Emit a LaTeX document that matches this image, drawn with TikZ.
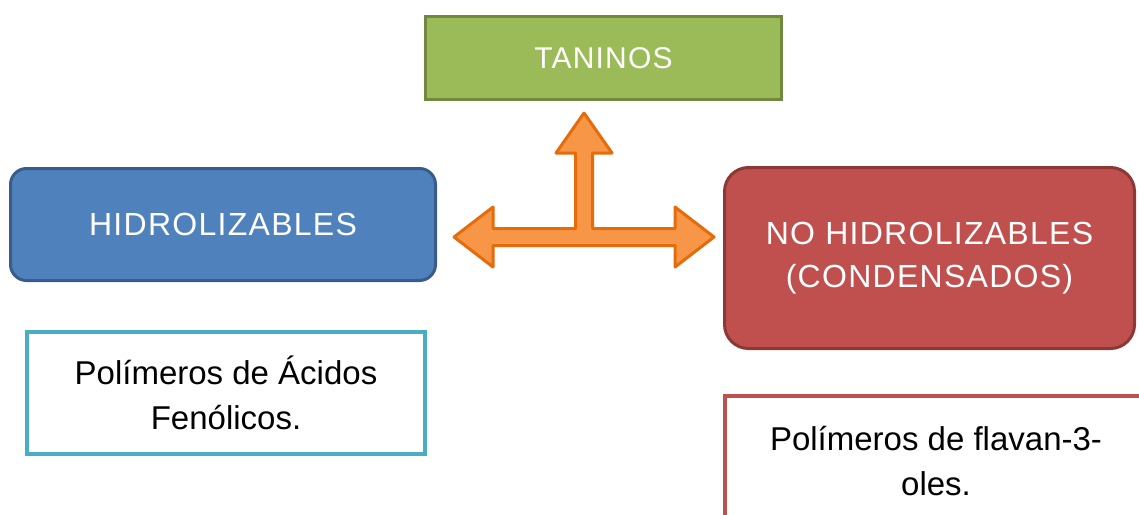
\documentclass[tikz,border=0pt]{standalone}
\usepackage{fontspec}
\setmainfont{Liberation Sans}
\newfontfamily\espaciada[LetterSpace=4]{Liberation Sans}

\definecolor{verde}{HTML}{9BBB59}
\definecolor{verdeosc}{HTML}{71893F}
\definecolor{azul}{HTML}{4F81BD}
\definecolor{azulosc}{HTML}{385D8A}
\definecolor{rojo}{HTML}{C0504D}
\definecolor{rojoosc}{HTML}{8C3836}
\definecolor{naranja}{HTML}{F79646}
\definecolor{naranjaosc}{HTML}{E46C0A}
\definecolor{celeste}{HTML}{4BACC6}

\begin{document}
\begin{tikzpicture}[x=1pt,y=-1pt,
	caja/.style={draw,line width=3pt,text=white,align=center,font=\espaciada\fontsize{32}{43}\selectfont},
	nota/.style={draw,line width=4pt,fill=white,align=center,font=\fontsize{33}{45}\selectfont},
	flecha/.style={fill=naranja,draw=naranjaosc,line width=3pt,line join=round}]
	\clip (0,0) rectangle (1139,514);
	\node[caja,fill=verde,draw=verdeosc,minimum width=356pt,minimum height=83pt,
		font=\espaciada\fontsize{30}{36}\selectfont] (taninos) at (603.5,58) {TANINOS};
	\node[caja,fill=azul,draw=azulosc,rounded corners=16pt,minimum width=425pt,minimum height=112pt] (hidro) at (223,224.5) {HIDROLIZABLES};
	\node[caja,fill=rojo,draw=rojoosc,rounded corners=24pt,minimum width=410pt,minimum height=181pt] (nohidro) at (929.5,258) {NO HIDROLIZABLES\\(CONDENSADOS)};
	\node[nota,draw=celeste,minimum width=398pt,minimum height=122pt] (acidos) at (226,393) {Polímeros de Ácidos\\Fenólicos.};
	\node[nota,draw=rojo,minimum width=422pt,minimum height=130pt] (flavan) at (936,461) {Polímeros de flavan-3-\\oles.};
	% flecha de tres puntas
	\coordinate (eje) at (584,237);
	\begin{scope}[shift={(eje)}]
		\draw[flecha] (-130,0) -- (-91,-30) -- (-91,-8.5) -- (-8.5,-8.5) -- (-8.5,-84) -- (-28,-84)
		-- (0,-124) -- (28,-84) -- (8.5,-84) -- (8.5,-8.5) -- (91,-8.5) -- (91,-30) -- (130,0)
		-- (91,30) -- (91,8.5) -- (-91,8.5) -- (-91,30) -- cycle;
	\end{scope}
\end{tikzpicture}
\end{document}
